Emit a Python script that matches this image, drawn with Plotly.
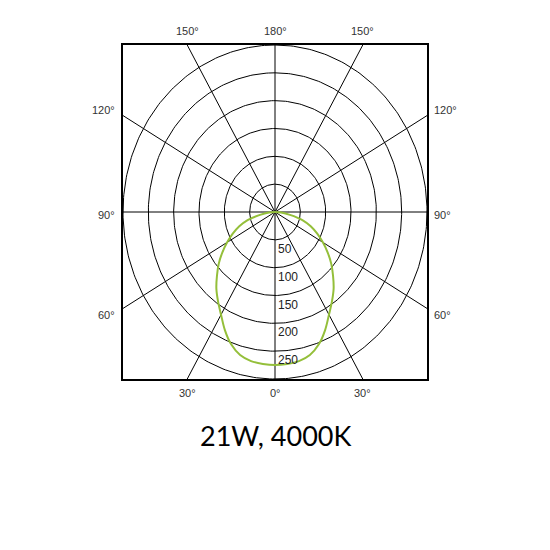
import numpy as np
import plotly.graph_objects as go

# luminous intensity (cd/klm), symmetric about 0°
angles_deg = [0, 5, 10, 15, 20, 25, 30, 35, 40, 45, 50, 55, 60, 65, 70, 75, 80, 85, 90]
intensity = [275, 274, 272, 266, 253, 234, 213, 196, 180, 162, 145, 127, 109, 92, 75, 56, 30, 12, 0]

grid_radii = [50, 100, 150, 200, 250, 300]
radial_labels = ["50", "100", "150", "200", "250"]
spoke_angles = [0, 30, 60, 90, 120, 150, 180, 210, 240, 270, 300, 330]

title_text = "21W, 4000K"
curve_color = "#94BF3A"
font_small = dict(family="Liberation Sans, Arial", size=11, color="#333333")
font_radial = dict(family="Liberation Sans, Arial", size=12, color="#222222")

fig = go.Figure()

# polar grid drawn in cartesian space so the square frame can clip it
t = np.linspace(0, 2 * np.pi, 361)
for r in grid_radii:
    fig.add_trace(go.Scatter(x=r * np.sin(t), y=r * np.cos(t), mode="lines",
                             line=dict(color="black", width=1), hoverinfo="skip"))

for a in spoke_angles:
    rad = np.radians(a)
    fig.add_trace(go.Scatter(x=[0, 700 * np.sin(rad)], y=[0, -700 * np.cos(rad)], mode="lines",
                             line=dict(color="black", width=1), hoverinfo="skip"))

# intensity curve, mirrored for the left half
th = np.radians(np.array(angles_deg))
I = np.array(intensity)
cx = np.concatenate([-(I * np.sin(th))[::-1], (I * np.sin(th))[1:]])
cy = np.concatenate([-(I * np.cos(th))[::-1], -(I * np.cos(th))[1:]])
fig.add_trace(go.Scatter(x=cx, y=cy, mode="lines", line=dict(color=curve_color, width=2, shape="spline"),
                         hoverinfo="skip"))

annotations = []
for r, lab in zip(grid_radii, radial_labels):
    annotations.append(dict(x=0, y=-r, xref="x", yref="y", text=lab, showarrow=False,
                            xanchor="left", yanchor="top", xshift=1, font=font_radial))

edge = 300 * np.tan(np.radians(30))
top_labels = [(-edge, "150°"), (0, "180°"), (edge, "150°")]
bottom_labels = [(-edge, "30°"), (0, "0°"), (edge, "30°")]
side_labels = [(183, "120°"), (-6, "90°"), (-185, "60°")]

for x, lab in top_labels:
    annotations.append(dict(x=x, y=1, xref="x", yref="paper", text=lab, showarrow=False,
                            yanchor="bottom", yshift=6, font=font_small))
for x, lab in bottom_labels:
    annotations.append(dict(x=x, y=0, xref="x", yref="paper", text=lab, showarrow=False,
                            yanchor="top", yshift=-6, font=font_small))
for y, lab in side_labels:
    annotations.append(dict(x=0, y=y, xref="paper", yref="y", text=lab, showarrow=False,
                            xanchor="right", xshift=-6, font=font_small))
    annotations.append(dict(x=1, y=y, xref="paper", yref="y", text=lab, showarrow=False,
                            xanchor="left", xshift=5, font=font_small))

annotations.append(dict(x=0.5, y=-0.168, xref="paper", yref="paper", text=title_text, showarrow=False,
                        yanchor="middle", font=dict(family="Lato", size=27, color="black")))

axis = dict(range=[-300, 300], showgrid=False, zeroline=False, showticklabels=False, ticks="",
            showline=True, mirror=True, linecolor="black", linewidth=2, fixedrange=True)

# page body adds ~8px offset, so margins are shifted up/left to compensate
fig.update_layout(
    width=550, height=550,
    margin=dict(l=115, r=131, t=37, b=179),
    paper_bgcolor="white", plot_bgcolor="white",
    showlegend=False,
    xaxis=axis, yaxis=axis,
    annotations=annotations,
)

fig.write_html("out.html", config={"displayModeBar": False})
